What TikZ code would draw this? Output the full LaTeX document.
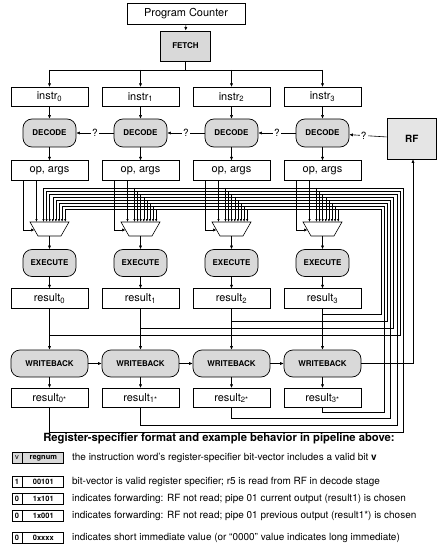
\documentclass[tikz,border=0pt]{standalone}
\usepackage{fontspec}
\setmainfont{TeX Gyre Heros}
\usetikzlibrary{arrows.meta,calc}
\definecolor{stagegray}{gray}{0.85}
\definecolor{rfgray}{gray}{0.9}
\begin{document}
\begin{tikzpicture}[x=1bp,y=-1bp,
  wire/.style={line width=0.6bp},
  arr/.style={wire,-{Latex[length=3.5bp,width=3.2bp]}},
  sarr/.style={wire,-{Latex[length=3bp,width=2.4bp]}},
  box/.style={draw,line width=0.7bp,minimum width=77bp,minimum height=19.5bp,inner sep=0pt,font=\fontsize{11}{12}\selectfont},
  stage/.style={draw,line width=0.7bp,fill=stagegray,rounded corners=9bp,minimum width=53bp,minimum height=28bp,inner sep=0pt,font=\fontsize{8}{9}\selectfont\bfseries},
  wbstage/.style={stage,minimum width=77bp,minimum height=27bp},
  qmark/.style={fill=white,inner sep=1.2bp,font=\fontsize{10}{11}\selectfont},
  cella/.style={draw,line width=0.8bp,minimum width=10bp,minimum height=11.5bp,inner sep=0pt,font=\fontsize{7.5}{8}\selectfont\bfseries},
  cellb/.style={draw,line width=0.8bp,minimum width=41bp,minimum height=11.5bp,inner sep=0pt,font=\fontsize{7.5}{8}\selectfont\bfseries},
  legtext/.style={anchor=west,inner sep=0pt,font=\fontsize{10}{11}\selectfont}
]
\useasboundingbox (0,0) rectangle (437,555);

% top
\node[box,minimum width=118bp,minimum height=21bp] (pc) at (186,13.5) {Program Counter};
\node[draw,line width=0.9bp,fill=stagegray,minimum width=50bp,minimum height=30bp,inner sep=0pt,font=\fontsize{8}{9}\selectfont\bfseries] (fetch) at (185.5,46) {FETCH};
\draw[arr] (pc) -- (fetch);
\coordinate (fb) at (185.5,70);
\draw[wire] (fetch.south) -- (fb);
\draw[wire] (49.5,70) coordinate (bl) -- (322.5,70) coordinate (br);

\node[draw,line width=0.7bp,fill=rfgray,minimum width=49.5bp,minimum height=41bp,inner sep=0pt,font=\fontsize{10}{11}\selectfont\bfseries] (rf) at (411.75,138.5) {RF};

\foreach \i in {0,...,3}{
  \pgfmathsetmacro\cx{49.5+91*\i}
  \node[box] (instr\i) at (\cx,97) {instr\textsubscript{\i}};
  \node[stage] (dec\i) at (\cx,133) {DECODE};
  \node[box] (op\i) at (\cx,170.5) {op, args};
  \coordinate (mux\i) at (\cx,229);
  \draw[line width=0.6bp] ($(mux\i)+(-19.5,-7)$) -- ($(mux\i)+(19.5,-7)$) -- ($(mux\i)+(11.5,7)$) -- ($(mux\i)+(-11.5,7)$) -- cycle;
  \node[stage,minimum height=27bp] (exe\i) at (\cx,263) {EXECUTE};
  \node[box] (res\i) at (\cx,298.5) {result\textsubscript{\i}};
  \node[wbstage] (wb\i) at (\cx,363.5) {WRITEBACK};
  \node[box] (rs\i) at (\cx,398) {result\textsubscript{\i*}};
  \draw[arr] (\cx,70) -- (instr\i.north);
  \draw[arr] (instr\i) -- (dec\i);
  \draw[arr] (dec\i) -- (op\i);
  \draw[arr] ($(op\i.south)+(-26,0)$) |- ($(mux\i)+(-15,1)$);
  \draw[sarr] ($(op\i.south)+(-13,0)$) -- ($(mux\i)+(-13,-7)$);
  \draw[arr] ($(mux\i)+(0,7)$) -- (exe\i);
  \draw[arr] (exe\i) -- (res\i);
  \draw[arr] (res\i) -- (wb\i);
  \draw[arr] (wb\i) -- (rs\i);
}
\draw[arr] (dec1) -- node[qmark]{?} (dec0);
\draw[arr] (dec2) -- node[qmark]{?} (dec1);
\draw[arr] (dec3) -- node[qmark]{?} (dec2);
\draw[arr] (rf) -- node[qmark,pos=0.62]{?} (dec3);
\draw[arr] (wb0) -- (wb1);
\draw[arr] (wb1) -- (wb2);
\draw[arr] (wb2) -- (wb3);
\draw[arr] (wb3.east) -| ($(rf.south)+(1.25,0)$);

% forwarding buses
\foreach \i in {0,...,3}{
  \pgfmathsetmacro\cx{49.5+91*\i}
  % result_i : bus line k = 2i+1
  \pgfmathsetmacro\ky{188+3*(2*\i+1)}
  \pgfmathsetmacro\kx{403-3.1*(2*\i+1)}
  \pgfmathsetmacro\jy{335-7*\i}
  \pgfmathsetmacro\dx{43.5+3.1*(2*\i+1)}
  \draw[sarr] (\cx,\jy) -- (\kx,\jy) -- (\kx,\ky) -- (\dx,\ky) -- (\dx,222);
  % result_i* : bus line k = 2i
  \pgfmathsetmacro\sy{188+3*(2*\i)}
  \pgfmathsetmacro\sx{403-3.1*(2*\i)}
  \pgfmathsetmacro\ly{432-6.7*\i}
  \pgfmathsetmacro\ex{43.5+3.1*(2*\i)}
  \draw[sarr] (rs\i.south) |- (\sx,\ly) -- (\sx,\sy) -- (\ex,\sy) -- (\ex,222);
}
\foreach \j in {1,2,3}{
  \foreach \k in {0,...,7}{
    \pgfmathsetmacro\dx{49.5+91*\j-6+3.1*\k}
    \pgfmathsetmacro\ky{188+3*\k}
    \draw[sarr] (\dx,\ky) -- (\dx,222);
  }
}

% legend
\node[font=\fontsize{11.3}{13}\selectfont\bfseries] (title) at (219,439) {Register-specifier format and example behavior in pipeline above:};
\node[cella,fill=stagegray,font=\fontsize{7.5}{8}\selectfont] (la1) at (17,458) {v};
\node[cellb,fill=stagegray,anchor=west] (lb1) at (la1.east) {regnum};
\node[legtext] (lt1) at (72,458) {the instruction word's register-specifier bit-vector includes a valid bit \textbf{v}};
\node[cella] (la2) at (17,482) {1};
\node[cellb,anchor=west] (lb2) at (la2.east) {00101};
\node[legtext] (lt2) at (72,482) {bit-vector is valid register specifier; r5 is read from RF in decode stage};
\node[cella] (la3) at (17,499) {0};
\node[cellb,anchor=west] (lb3) at (la3.east) {1x101};
\node[legtext] (lt3) at (72,499) {indicates forwarding: RF not read; pipe 01 current output (result1) is chosen};
\node[cella] (la4) at (17,516) {0};
\node[cellb,anchor=west] (lb4) at (la4.east) {1x001};
\node[legtext] (lt4) at (72,516) {indicates forwarding: RF not read; pipe 01 previous output (result1*) is chosen};
\node[cella] (la5) at (17,538) {0};
\node[cellb,anchor=west] (lb5) at (la5.east) {0xxxx};
\node[legtext] (lt5) at (72,538) {indicates short immediate value (or “0000” value indicates long immediate)};
\end{tikzpicture}
\end{document}
